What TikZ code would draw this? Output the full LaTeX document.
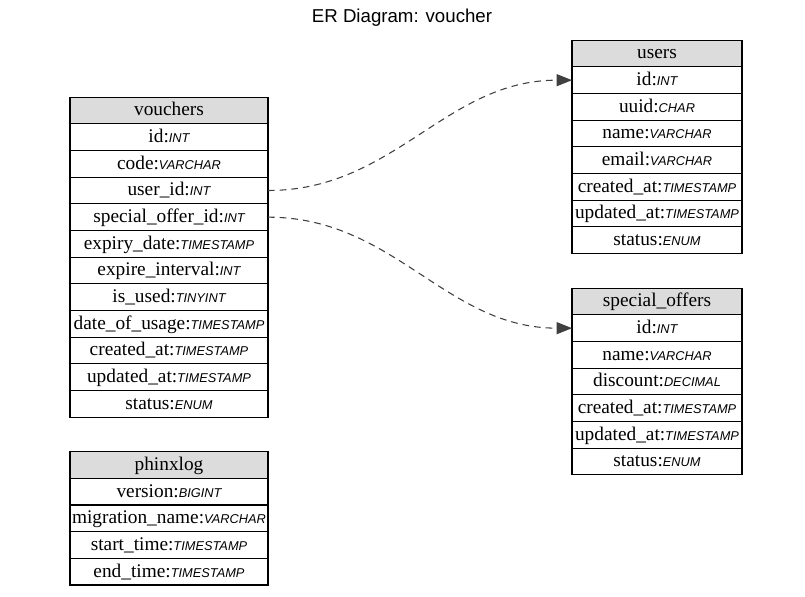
\documentclass[tikz,border=0pt]{standalone}
\usepackage{fontspec}
\setmainfont{Liberation Serif}
\newfontfamily\ersans{Liberation Sans}
\usetikzlibrary{positioning, arrows.meta}
\definecolor{headfill}{HTML}{DCDCDC}
\definecolor{linkgray}{HTML}{404040}

\tikzset{
  cell/.style={draw, line width=0.8pt, minimum height=20pt, inner sep=0pt, outer sep=0pt,
    text height=10pt, text depth=2pt, font=\fontsize{14.5}{16}\selectfont},
  headcell/.style={cell, fill=headfill},
  link/.style={linkgray, line width=0.8pt, dash pattern=on 5pt off 3.75pt,
    -{Triangle[length=11.5pt, width=9pt]}}
}
\newcommand{\ftype}[1]{{\ersans\itshape\fontsize{9.6}{11}\selectfont #1}}

\begin{document}
\begin{tikzpicture}[x=0.75pt, y=-0.75pt]
    \useasboundingbox (0,0) rectangle (805,596);
    % Title
    \node[font=\ersans\fontsize{14}{16}\selectfont] (title) at (402,18) {ER Diagram: voucher};

    % vouchers table
    \node[headcell, minimum width=148.5pt] (vouchers-0) at (169,110.5) {vouchers};
    \foreach \f/\t [count=\i, remember=\i as \j (initially 0)] in {id/INT, code/VARCHAR,
        user\_id/INT, special\_offer\_id/INT, expiry\_date/TIMESTAMP, expire\_interval/INT,
        is\_used/TINYINT, date\_of\_usage/TIMESTAMP, created\_at/TIMESTAMP,
        updated\_at/TIMESTAMP, status/ENUM}
      \node[cell, minimum width=148.5pt, below=0pt of vouchers-\j] (vouchers-\i) {\f:\ftype{\t}};

    % users table
    \node[headcell, minimum width=127.5pt] (users-0) at (657,53.5) {users};
    \foreach \f/\t [count=\i, remember=\i as \j (initially 0)] in {id/INT, uuid/CHAR,
        name/VARCHAR, email/VARCHAR, created\_at/TIMESTAMP, updated\_at/TIMESTAMP, status/ENUM}
      \node[cell, minimum width=127.5pt, below=0pt of users-\j] (users-\i) {\f:\ftype{\t}};

    % special_offers table
    \node[headcell, minimum width=127.5pt] (offers-0) at (657,301.5) {special\_offers};
    \foreach \f/\t [count=\i, remember=\i as \j (initially 0)] in {id/INT, name/VARCHAR,
        discount/DECIMAL, created\_at/TIMESTAMP, updated\_at/TIMESTAMP, status/ENUM}
      \node[cell, minimum width=127.5pt, below=0pt of offers-\j] (offers-\i) {\f:\ftype{\t}};

    % phinxlog table
    \node[headcell, minimum width=148.5pt] (phinxlog-0) at (169,465) {phinxlog};
    \foreach \f/\t [count=\i, remember=\i as \j (initially 0)] in {version/BIGINT,
        migration\_name/VARCHAR, start\_time/TIMESTAMP, end\_time/TIMESTAMP}
      \node[cell, minimum width=148.5pt, below=0pt of phinxlog-\j] (phinxlog-\i) {\f:\ftype{\t}};

    % Foreign keys
    \draw[link] (vouchers-3.east) to[out=0, in=180] (users-1.west);
    \draw[link] (vouchers-4.east) to[out=0, in=180] (offers-1.west);
\end{tikzpicture}
\end{document}
